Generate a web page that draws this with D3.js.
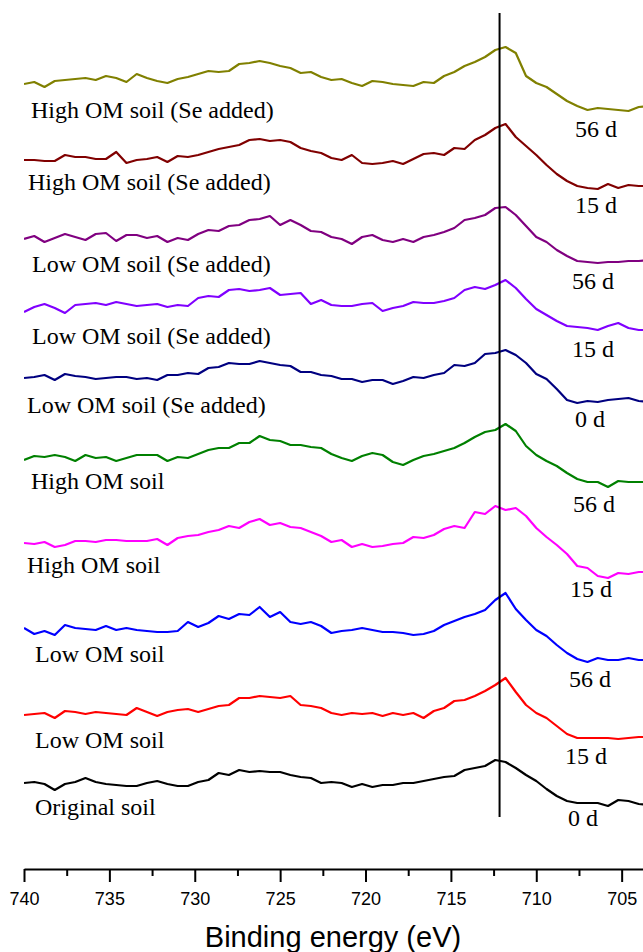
<!DOCTYPE html>
<html>
<head>
<meta charset="utf-8">
<script src="https://cdn.jsdelivr.net/npm/d3@7"></script>
<style>
	body { margin: 0; background: #fff; }
	svg { display: block; }
	.sample { font-family: "Liberation Serif", "Times New Roman", serif; font-size: 24px; fill: #000; }
	.axis text { font-family: "Liberation Sans", Arial, sans-serif; font-size: 18px; fill: #000; }
	.axis path, .axis line { stroke: #000; stroke-width: 2px; }
	.title { font-family: "Liberation Sans", Arial, sans-serif; font-size: 29px; fill: #000; }
</style>
</head>
<body>
<div id="chart"></div>
<script>
// Binding energy grid (eV), 0.6 eV steps
const energies = [740, 739.4, 738.8, 738.2, 737.6, 737, 736.4, 735.8, 735.2, 734.6,
	734, 733.4, 732.8, 732.2, 731.6, 731, 730.4, 729.8, 729.2, 728.6,
	728, 727.4, 726.8, 726.2, 725.6, 725, 724.4, 723.8, 723.2, 722.6,
	722, 721.4, 720.8, 720.2, 719.6, 719, 718.4, 717.8, 717.2, 716.6,
	716, 715.4, 714.8, 714.2, 713.6, 713, 712.4, 711.8, 711.2, 710.6,
	710, 709.4, 708.8, 708.2, 707.6, 707, 706.4, 705.8, 705.2, 704.6,
	704, 703.4];

// sample names and incubation times, top to bottom
const samples = ["High OM soil (Se added)", "High OM soil (Se added)", "Low OM soil (Se added)",
	"Low OM soil (Se added)", "Low OM soil (Se added)", "High OM soil", "High OM soil",
	"Low OM soil", "Low OM soil", "Original soil"];
const days = ["56 d", "15 d", "56 d", "15 d", "0 d", "56 d", "15 d", "56 d", "15 d", "0 d"];
const colors = ["#808000", "#800000", "#800080", "#8000ff", "#000080",
	"#008000", "#ff00ff", "#0000ff", "#ff0000", "#000000"];

// vertical offset of each spectrum (a.u.)
const offsets = [762, 684, 608, 543, 471, 388, 298, 211, 132, 67];

// Fe 2p intensity (a.u., background removed), one row per spectrum
const hiSe56 = [24, 26, 21, 27, 28, 29, 30, 28, 32, 30, 26, 34, 30, 27, 25, 29, 31, 34, 37, 36,
	37, 44, 45, 47, 45, 42, 40, 35, 36, 31, 28, 29, 25, 22, 27, 26, 24, 23, 22, 26,
	25, 32, 36, 42, 46, 51, 58, 61, 55, 32, 25, 21, 14, 7, 2, -2, 0, -1, -2, -3, 1, 2];
const hiSe15 = [26, 26, 25, 25, 31, 29, 29, 27, 27, 34, 23, 26, 27, 29, 24, 30, 29, 31, 34, 37,
	39, 41, 46, 47, 45, 46, 44, 38, 35, 33, 28, 26, 31, 23, 22, 23, 25, 22, 27, 32,
	33, 31, 38, 37, 46, 51, 58, 62, 49, 40, 31, 21, 12, 5, 0, -2, -3, 2, -2, 1, 0, 0];
const loSe56 = [23, 26, 20, 24, 28, 25, 22, 28, 29, 21, 27, 27, 24, 26, 20, 24, 22, 28, 32, 31,
	36, 37, 42, 43, 46, 37, 42, 37, 31, 30, 25, 23, 18, 25, 27, 22, 20, 23, 20, 25,
	27, 30, 34, 42, 44, 47, 54, 55, 47, 36, 25, 20, 12, 6, 1, 0, -1, 0, 0, 1, 1, 2];
const loSe15 = [15, 20, 23, 19, 14, 22, 23, 24, 22, 25, 23, 21, 22, 23, 20, 22, 21, 29, 31, 30,
	37, 38, 36, 37, 39, 32, 33, 34, 23, 27, 22, 21, 21, 23, 24, 16, 19, 21, 25, 24,
	24, 26, 29, 37, 40, 38, 42, 47, 39, 28, 18, 12, 6, 1, 0, -1, -3, 1, 4, -1, -3, -3];
const loSe0 = [21, 22, 24, 19, 25, 23, 22, 20, 21, 22, 22, 20, 21, 19, 24, 24, 26, 25, 31, 32,
	36, 35, 35, 38, 36, 34, 33, 27, 27, 24, 23, 20, 20, 17, 19, 19, 15, 18, 22, 21,
	24, 26, 34, 33, 36, 45, 46, 49, 44, 36, 25, 20, 10, -1, -4, -2, -3, -1, 0, 1, -2, -3];
const hi56 = [22, 26, 25, 27, 25, 21, 27, 24, 25, 21, 24, 27, 27, 27, 21, 25, 24, 28, 32, 34,
	34, 39, 39, 46, 42, 41, 37, 37, 35, 34, 28, 24, 21, 26, 29, 27, 20, 17, 22, 26,
	28, 31, 34, 39, 45, 50, 52, 58, 51, 36, 27, 21, 16, 9, 3, 0, 0, -5, 1, 0, 0, 0];
const hi15 = [29, 28, 30, 25, 27, 31, 31, 30, 32, 32, 31, 31, 31, 33, 27, 34, 36, 37, 40, 42,
	46, 44, 50, 53, 47, 49, 45, 44, 40, 36, 30, 32, 25, 28, 25, 26, 28, 29, 35, 34,
	37, 43, 46, 44, 60, 58, 66, 62, 64, 56, 44, 35, 27, 18, 6, 4, -4, -6, -1, -2, 0, 0];
const lo56 = [31, 25, 28, 24, 34, 31, 30, 29, 33, 29, 31, 29, 28, 27, 27, 28, 37, 32, 36, 43,
	40, 45, 44, 52, 42, 47, 37, 35, 37, 33, 26, 28, 29, 31, 29, 27, 27, 26, 24, 25,
	28, 34, 38, 42, 45, 49, 59, 66, 50, 39, 29, 23, 14, 6, 0, -3, 1, -1, -1, 1, -1, -1];
const lo15 = [23, 24, 25, 20, 27, 26, 24, 26, 25, 24, 23, 30, 26, 22, 26, 28, 29, 26, 29, 32,
	33, 40, 40, 42, 41, 40, 42, 33, 32, 30, 25, 23, 25, 24, 25, 22, 25, 23, 25, 20,
	27, 30, 37, 38, 42, 47, 53, 60, 46, 33, 25, 20, 12, 4, 0, 0, 0, 0, -1, 0, 1, 1];
const original = [20, 21, 19, 13, 19, 21, 25, 21, 19, 18, 17, 17, 20, 22, 19, 17, 17, 21, 23, 30,
	28, 33, 31, 32, 31, 31, 28, 26, 25, 20, 21, 20, 16, 19, 16, 18, 18, 20, 20, 22,
	24, 26, 27, 33, 35, 37, 43, 41, 35, 28, 22, 14, 7, 2, 0, 0, 0, -3, 3, 2, -1, -2];

const spectra = [hiSe56, hiSe15, loSe56, loSe15, loSe0, hi56, hi15, lo56, lo15, original];

const majorTicks = [740, 735, 730, 725, 720, 715, 710, 705];
const minorTicks = [737.5, 732.5, 727.5, 722.5, 717.5, 712.5, 707.5];
const markerEnergy = 712.15;

// label placement (px): sample name left, time right
const nameX = [31, 28, 32, 32, 27, 31, 27, 35, 35, 35];
const nameY = [118, 190, 272, 344, 413, 489, 573, 662, 748, 815];
const dayX = [575, 575, 572, 572, 575, 573, 570, 569, 565, 568];
const dayY = [137, 213, 289, 357, 427, 512, 597, 687, 764, 826];

const width = 643, height = 952;
const axisY = 869;

const svg = d3.select("#chart").append("svg")
	.attr("width", width).attr("height", height);

const x = d3.scaleLinear([740, 703.75], [24, 643]);
const y = d3.scaleLinear([0, 850], [axisY + 1, 20]);

svg.append("defs").append("clipPath").attr("id", "plot")
	.append("rect").attr("x", 24).attr("y", 0).attr("width", width - 24).attr("height", axisY);

const line = d3.line()
	.x((d) => x(d[0]))
	.y((d) => y(d[1]));

// spectra
svg.append("g").attr("clip-path", "url(#plot)")
	.selectAll("path")
	.data(spectra)
	.join("path")
	.attr("fill", "none")
	.attr("stroke", (d, i) => colors[i])
	.attr("stroke-width", 2.2)
	.attr("stroke-linejoin", "round")
	.attr("d", (d, i) => line(d.map((v, j) => [energies[j], v + offsets[i]])));

// reference line at the Fe 2p3/2 peak
svg.append("line")
	.attr("x1", x(markerEnergy)).attr("x2", x(markerEnergy))
	.attr("y1", 13).attr("y2", 817)
	.attr("stroke", "#000").attr("stroke-width", 2);

// labels
svg.append("g").selectAll("text")
	.data(samples)
	.join("text")
	.classed("sample", true)
	.attr("x", (d, i) => nameX[i])
	.attr("y", (d, i) => nameY[i])
	.text((d) => d);

svg.append("g").selectAll("text")
	.data(days)
	.join("text")
	.classed("sample", true)
	.attr("x", (d, i) => dayX[i])
	.attr("y", (d, i) => dayY[i])
	.text((d) => d);

// x axis
svg.append("g")
	.classed("axis", true)
	.attr("transform", `translate(0, ${axisY})`)
	.call(d3.axisBottom(x).tickValues(majorTicks).tickSize(13).tickSizeOuter(0).tickPadding(10).tickFormat(d3.format("d")));

svg.append("g")
	.classed("axis", true)
	.attr("transform", `translate(0, ${axisY})`)
	.call(d3.axisBottom(x).tickValues(minorTicks).tickSize(7).tickSizeOuter(0).tickFormat(""))
	.select(".domain").remove();

svg.append("text")
	.classed("title", true)
	.attr("x", 333).attr("y", 947)
	.attr("text-anchor", "middle")
	.text("Binding energy (eV)");
</script>
</body>
</html>
